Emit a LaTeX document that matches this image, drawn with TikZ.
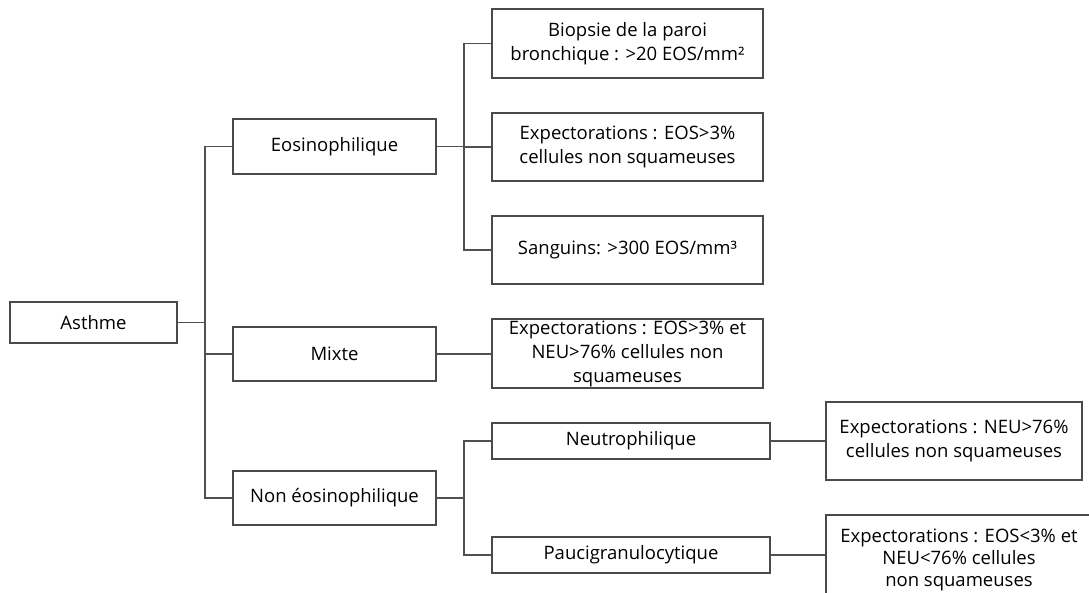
\documentclass[tikz,border=0pt]{standalone}
\usepackage{fontspec}
\setmainfont{Open Sans}
\definecolor{boxgray}{HTML}{4A4A4A}
\definecolor{linegray}{HTML}{505050}
\begin{document}
\begin{tikzpicture}[x=1pt,y=-1pt,
  box/.style={draw=boxgray, line width=1.3pt, inner sep=0pt, align=center,
    font=\fontsize{18.5}{24}\selectfont, text=black},
  link/.style={draw=linegray, line width=1.3pt}]
\useasboundingbox (0,0) rectangle (1089,592);
% level 0
\node[box, minimum width=167pt, minimum height=41pt] (asthme) at (93.5,322.5) {Asthme};
% level 1
\node[box, minimum width=203pt, minimum height=55pt] (eos) at (334.5,146.5) {Eosinophilique};
\node[box, minimum width=203pt, minimum height=54pt] (mixte) at (334.5,354) {Mixte};
\node[box, minimum width=203pt, minimum height=54pt] (noneos) at (334.5,498) {Non éosinophilique};
% level 2
\node[box, minimum width=271pt, minimum height=69pt] (biopsie) at (627.5,43.5) {Biopsie de la paroi\\bronchique : >20 EOS/mm²};
\node[box, minimum width=271pt, minimum height=68pt] (expeos) at (627.5,147) {Expectorations : EOS>3\%\\cellules non squameuses};
\node[box, minimum width=271pt, minimum height=68pt] (sang) at (627.5,250) {Sanguins: >300 EOS/mm³};
\node[box, minimum width=271pt, minimum height=69pt] (expmix) at (627.5,353.5) {Expectorations : EOS>3\% et\\NEU>76\% cellules non\\squameuses};
\node[box, minimum width=278pt, minimum height=36pt] (neutro) at (631,441) {Neutrophilique};
\node[box, minimum width=278pt, minimum height=36pt] (pauci) at (631,555) {Paucigranulocytique};
% level 3
\node[box, minimum width=256pt, minimum height=78pt] (expneu) at (954,441) {Expectorations : NEU>76\%\\cellules non squameuses};
\node[box, minimum width=266pt, minimum height=90pt, font=\fontsize{18.5}{22}\selectfont] (exppauci) at (959,560) {Expectorations : EOS<3\% et\\NEU<76\% cellules\\non squameuses};
% bus coordinates
\coordinate (t1) at (205,0);
\coordinate (t2) at (464,0);
% connectors
\draw[link] (asthme.east) -- (asthme.east -| t1);
\draw[link] (eos.west) -| (t1 |- noneos.west) -- (noneos.west);
\draw[link] (mixte.west) -- (mixte.west -| t1);
\draw[link] (eos.east) -- (eos.east -| t2);
\draw[link] (biopsie.west) -| (t2 |- sang.west) -- (sang.west);
\draw[link] (expeos.west) -- (expeos.west -| t2);
\draw[link] (mixte.east) -- (mixte.east -| expmix.west);
\draw[link] (noneos.east) -- (noneos.east -| t2);
\draw[link] (neutro.west) -| (t2 |- pauci.west) -- (pauci.west);
\draw[link] (neutro.east) -- (expneu.west);
\draw[link] (pauci.east) -- (pauci.east -| exppauci.west);
\end{tikzpicture}
\end{document}
